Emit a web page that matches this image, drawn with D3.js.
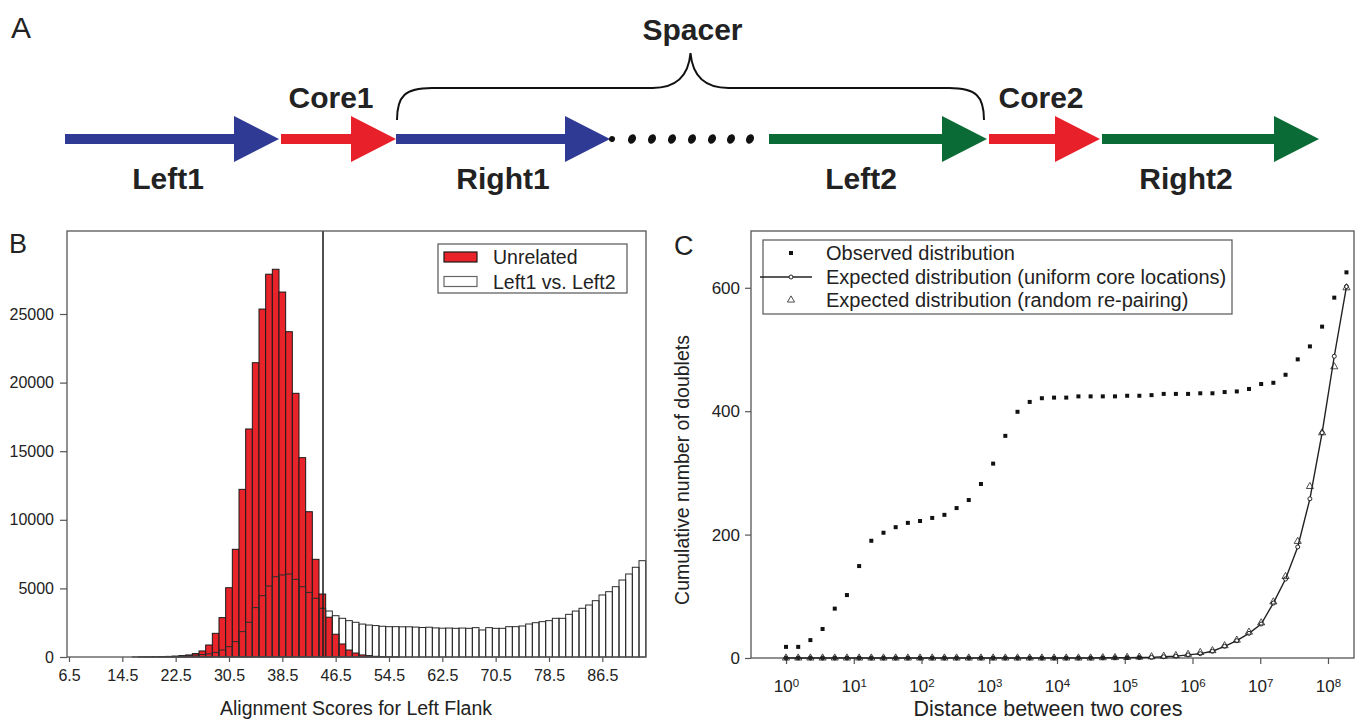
<!DOCTYPE html>
<html>
<head>
<meta charset="utf-8">
<script src="https://cdn.jsdelivr.net/npm/d3@7"></script>
<style>
  body { margin: 0; background: #fff; }
  svg text { font-family: "Liberation Sans", Arial, Helvetica, sans-serif; fill: #222; }
</style>
</head>
<body>
<svg id="fig" width="1361" height="721"></svg>
<script>
'use strict';

// ---------------- data ----------------

// panel A: schematic of a doublet (diagram units along the sequence)
var segNames  = ['Left1', 'Core1', 'Right1', 'Left2', 'Core2', 'Right2'];
var segGroup  = ['flank1', 'core', 'flank1', 'flank2', 'core', 'flank2'];
var segFrom   = [0, 216, 331, 704, 924, 1037];
var segTo     = [214, 331, 545, 922, 1035, 1254];
var segLabelAt = [103, 266, 438, 796, 976, 1121];
var segLabelSide = ['below', 'above', 'below', 'below', 'above', 'below'];
var spacerDots = [547, 567, 587, 607, 627, 647, 666, 685];
var spacerFrom = 331, spacerTo = 918;

// panel B: histogram of alignment scores (bin lower edges, width 1)
var scoreBins = [6, 7, 8, 9, 10, 11, 12, 13, 14, 15, 16, 17, 18, 19, 20, 21, 22, 23, 24, 25, 26, 27, 28, 29,
  30, 31, 32, 33, 34, 35, 36, 37, 38, 39, 40, 41, 42, 43, 44, 45, 46, 47, 48, 49, 50, 51, 52, 53, 54, 55,
  56, 57, 58, 59, 60, 61, 62, 63, 64, 65, 66, 67, 68, 69, 70, 71, 72, 73, 74, 75, 76, 77, 78, 79, 80, 81,
  82, 83, 84, 85, 86, 87, 88, 89, 90, 91, 92];
var unrelatedCounts = [0, 0, 0, 0, 0, 0, 0, 0, 0, 0, 5, 8, 12, 20, 30, 45, 60, 100, 150, 250, 440, 875, 1725, 2870,
  5050, 7850, 12220, 16620, 21450, 25360, 27900, 28260, 26600, 23710, 19220, 14530, 10590, 7120, 4590, 2900, 1660, 950, 510, 290, 150, 100, 50, 25, 12, 6,
  0, 0, 0, 0, 0, 0, 0, 0, 0, 0, 0, 0, 0, 0, 0, 0, 0, 0, 0, 0, 0, 0, 0, 0, 0, 0,
  0, 0, 0, 0, 0, 0, 0, 0, 0, 0, 0];
var flankCounts = [0, 0, 0, 0, 0, 0, 0, 0, 0, 0, 0, 5, 10, 15, 25, 35, 50, 70, 100, 140, 180, 230, 330, 510,
  750, 1120, 1850, 2530, 3600, 4470, 5170, 5850, 5980, 6050, 5660, 5120, 4710, 4280, 3550, 3350, 3010, 2820, 2650, 2530, 2400, 2330, 2290, 2240, 2210, 2210,
  2200, 2200, 2180, 2150, 2170, 2120, 2100, 2110, 2090, 2110, 2090, 2140, 1970, 2140, 2090, 2090, 2210, 2210, 2260, 2405, 2500, 2575, 2650, 2820, 2820, 3110,
  3350, 3550, 3790, 4105, 4520, 4760, 5125, 5610, 6050, 6540, 7020];
var scoreCutoff = 44.6;
var scoreTicks = [6.5, 14.5, 22.5, 30.5, 38.5, 46.5, 54.5, 62.5, 70.5, 78.5, 86.5];
var countTicks = [0, 5000, 10000, 15000, 20000, 25000];
var histSeries = ['Unrelated', 'Left1 vs. Left2'];

// panel C: cumulative number of doublets vs distance between cores
var distances = [1, 1.513, 2.289, 3.464, 5.24, 7.929, 12.0, 18.15, 27.46, 41.55, 62.87, 95.12, 143.9, 217.7,
  329.4, 498.4, 754.1, 1141, 1726, 2612, 3952, 5979, 9047, 13688, 20710, 31334, 47408, 71729, 108526,
  164200, 248435, 375882, 568710, 860458, 1301873, 1969734, 2980208, 4509055, 6822200, 10321990,
  15617170, 23628780, 35750340, 54090260, 81838560, 123821800, 187342300];
var observed = [18, 18, 29, 47, 80, 102, 149, 190, 203, 212, 219, 222, 227, 232, 243, 256, 282, 315, 360, 399,
  415, 421, 422, 422, 424, 424, 424, 424, 425, 425, 426, 428, 428, 428, 429, 429, 431, 432, 436, 444,
  446, 459, 484, 505, 537, 584, 625];
var expectedUniform = [0, 0, 0, 0, 0, 0, 0, 0, 0, 0, 0, 0, 0, 0, 0, 0, 0, 0, 0, 0,
  0, 0, 0, 0, 0, 0, 0.3, 0.4, 0.6, 0.8, 1, 2, 3, 5, 7, 11, 19, 28, 40, 55,
  89, 128, 180, 258, 365, 489, 602];
var expectedRepair = [0, 0, 0, 0, 0, 0, 0, 0, 0, 0, 0, 0, 0, 0, 0, 0, 0, 0, 0, 0,
  0, 0, 0, 0, 0, 0, 0.5, 0.7, 1, 1.5, 2, 3, 4, 6, 9, 12, 20, 29, 42, 57,
  91, 132, 189, 278, 365, 472, 600];
var distTicks = [1, 10, 100, 1000, 10000, 100000, 1000000, 10000000, 100000000];
var doubletTicks = [0, 200, 400, 600];
var seriesC = ['Observed distribution', 'Expected distribution (uniform core locations)',
  'Expected distribution (random re-pairing)'];

// ---------------- drawing ----------------

var svg = d3.select('#fig');
var ink = '#222';
var frameColor = '#555';

function panelLetter(txt, x, y, size) {
  svg.append('text').attr('x', x).attr('y', y).style('font-size', size + 'px').text(txt);
}

// ===== Panel A =====
var colorOf = { flank1: '#2e3a94', core: '#e8202a', flank2: '#0a6b36' };
var xA = d3.scaleLinear().domain([0, 1254]).range([65, 1319]);
var yArrow = 139, shaft = 5, headLen = 45, headHalf = 23;

var gA = svg.append('g');
panelLetter('A', 11, 38, 30);

gA.selectAll('path.arrow')
  .data(segNames)
  .enter()
  .append('path')
  .attr('class', 'arrow')
  .attr('fill', function(d, i) { return colorOf[segGroup[i]]; })
  .attr('d', function(d, i) {
    var x0 = xA(segFrom[i]), x1 = xA(segTo[i]), xb = x1 - headLen;
    return 'M' + x0 + ',' + (yArrow - shaft) + 'L' + xb + ',' + (yArrow - shaft) +
      'L' + xb + ',' + (yArrow - headHalf) + 'L' + x1 + ',' + yArrow +
      'L' + xb + ',' + (yArrow + headHalf) + 'L' + xb + ',' + (yArrow + shaft) +
      'L' + x0 + ',' + (yArrow + shaft) + 'Z';
  });

gA.selectAll('text.seg')
  .data(segNames)
  .enter()
  .append('text')
  .attr('class', 'seg')
  .attr('text-anchor', 'middle')
  .attr('x', function(d, i) { return xA(segLabelAt[i]); })
  .attr('y', function(d, i) { return segLabelSide[i] === 'above' ? 108 : 189; })
  .style('font-size', '30px')
  .style('font-weight', 'bold')
  .text(function(d) { return d; });

gA.selectAll('ellipse.dot')
  .data(spacerDots)
  .enter()
  .append('ellipse')
  .attr('class', 'dot')
  .attr('cx', function(d) { return xA(d); })
  .attr('cy', yArrow)
  .attr('rx', function(d, i) { return i === 0 ? 3 : 3.8; })
  .attr('ry', function(d, i) { return i === 0 ? 3 : 5; })
  .attr('transform', function(d) { return 'rotate(25,' + xA(d) + ',' + yArrow + ')'; })
  .attr('fill', '#111');

// curly brace over the spacer
(function() {
  var x0 = xA(spacerFrom) + 1, x1 = xA(spacerTo) + 1, xm = (x0 + x1) / 2;
  var yEnd = 120, yBar = 88, yPeak = 53;
  var p = 'M' + x0 + ',' + yEnd +
    'C' + x0 + ',' + (yBar + 8) + ' ' + (x0 + 8) + ',' + yBar + ' ' + (x0 + 35) + ',' + yBar +
    'L' + (xm - 38) + ',' + yBar +
    'C' + (xm - 14) + ',' + yBar + ' ' + (xm - 2) + ',' + (yBar - 12) + ' ' + xm + ',' + yPeak +
    'C' + (xm + 2) + ',' + (yBar - 12) + ' ' + (xm + 14) + ',' + yBar + ' ' + (xm + 38) + ',' + yBar +
    'L' + (x1 - 35) + ',' + yBar +
    'C' + (x1 - 8) + ',' + yBar + ' ' + x1 + ',' + (yBar + 8) + ' ' + x1 + ',' + yEnd;
  gA.append('path').attr('d', p).attr('fill', 'none').attr('stroke', '#111').attr('stroke-width', 2);
  gA.append('text').attr('x', xm + 2).attr('y', 40).attr('text-anchor', 'middle')
    .style('font-size', '30px').style('font-weight', 'bold').text('Spacer');
})();

// ===== Panel B =====
var bL = 67, bR = 646, bT = 231, bB = 657;
var xB = d3.scaleLinear().domain([6.2, 93.05]).range([bL, bR]);
var yB = d3.scaleLinear().domain([0, 31050]).range([bB, bT]);
var gB = svg.append('g');
panelLetter('B', 9, 253, 27);

gB.selectAll('rect.unrel')
  .data(scoreBins)
  .enter()
  .append('rect')
  .attr('class', 'unrel')
  .attr('x', function(d) { return xB(d); })
  .attr('width', function(d) { return xB(d + 1) - xB(d); })
  .attr('y', function(d, i) { return yB(unrelatedCounts[i]); })
  .attr('height', function(d, i) { return bB - yB(unrelatedCounts[i]); })
  .attr('fill', '#e8232a')
  .attr('stroke', '#1a1a1a')
  .attr('stroke-width', 1);

gB.selectAll('rect.flank')
  .data(scoreBins)
  .enter()
  .append('rect')
  .attr('class', 'flank')
  .attr('x', function(d) { return xB(d); })
  .attr('width', function(d) { return xB(d + 1) - xB(d); })
  .attr('y', function(d, i) { return yB(flankCounts[i]); })
  .attr('height', function(d, i) { return bB - yB(flankCounts[i]); })
  .attr('fill', 'none')
  .attr('stroke', '#2a2a2a')
  .attr('stroke-width', 1);

gB.append('line')
  .attr('x1', xB(scoreCutoff)).attr('x2', xB(scoreCutoff))
  .attr('y1', bT).attr('y2', bB)
  .attr('stroke', '#222').attr('stroke-width', 1.6);

gB.append('rect')
  .attr('x', bL).attr('y', bT).attr('width', bR - bL).attr('height', bB - bT)
  .attr('fill', 'none').attr('stroke', frameColor).attr('stroke-width', 1.3);

var axBy = gB.append('g').attr('transform', 'translate(' + bL + ',0)')
  .call(d3.axisLeft(yB).tickValues(countTicks).tickSize(7).tickPadding(6).tickFormat(d3.format('d')));
var axBx = gB.append('g').attr('transform', 'translate(0,' + bB + ')')
  .call(d3.axisBottom(xB).tickValues(scoreTicks).tickSize(5).tickPadding(8).tickFormat(d3.format('.1f')));
[axBy, axBx].forEach(function(ax) {
  ax.select('.domain').remove();
  ax.selectAll('.tick line').attr('stroke', frameColor).attr('stroke-width', 1.2);
  ax.selectAll('.tick text').attr('fill', ink).style('font-size', '16px')
    .style('font-family', '"Liberation Sans", Arial, sans-serif');
});

gB.append('text').attr('x', 356).attr('y', 715).attr('text-anchor', 'middle')
  .style('font-size', '19.5px').text('Alignment Scores for Left Flank');

// legend B
var legB = gB.append('g');
legB.append('rect').attr('x', 438).attr('y', 244).attr('width', 189).attr('height', 49)
  .attr('fill', '#fff').attr('stroke', frameColor).attr('stroke-width', 1.2);
legB.selectAll('rect.sw')
  .data(histSeries)
  .enter()
  .append('rect')
  .attr('class', 'sw')
  .attr('x', 444).attr('width', 33)
  .attr('y', function(d, i) { return 252 + i * 24.5; })
  .attr('height', 10)
  .attr('fill', function(d, i) { return i === 0 ? '#e8232a' : '#fff'; })
  .attr('stroke', function(d, i) { return i === 0 ? '#1a1a1a' : '#666'; })
  .attr('stroke-width', 1.2);
legB.selectAll('text.lb')
  .data(histSeries)
  .enter()
  .append('text')
  .attr('class', 'lb')
  .attr('x', 493)
  .attr('y', function(d, i) { return 264 + i * 24.5; })
  .style('font-size', '19.5px')
  .text(function(d) { return d; });

// ===== Panel C =====
var cL = 751, cR = 1354, cT = 231, cB = 658;
var xC = d3.scaleLog().domain([Math.pow(10, -0.517), Math.pow(10, 8.384)]).range([cL, cR]);
var yC = d3.scaleLinear().domain([0, 692]).range([cB, cT]);
var gC = svg.append('g');
panelLetter('C', 674, 255, 27);

gC.append('rect')
  .attr('x', cL).attr('y', cT).attr('width', cR - cL).attr('height', cB - cT)
  .attr('fill', 'none').attr('stroke', frameColor).attr('stroke-width', 1.3);

var axCy = gC.append('g').attr('transform', 'translate(' + cL + ',0)')
  .call(d3.axisLeft(yC).tickValues(doubletTicks).tickSize(6).tickPadding(5));
var axCx = gC.append('g').attr('transform', 'translate(0,' + cB + ')')
  .call(d3.axisBottom(xC).tickValues(distTicks).tickSize(6).tickPadding(16));
[axCy, axCx].forEach(function(ax) {
  ax.select('.domain').remove();
  ax.selectAll('.tick line').attr('stroke', frameColor).attr('stroke-width', 1.2);
  ax.selectAll('.tick text').attr('fill', ink).style('font-size', '17px')
    .style('font-family', '"Liberation Sans", Arial, sans-serif');
});
axCx.selectAll('.tick text').each(function(d) {
  var t = d3.select(this);
  t.text('');
  t.append('tspan').text('10');
  t.append('tspan').attr('dy', '-0.45em').style('font-size', '11.5px').text(Math.round(Math.log10(d)));
});

// expected (uniform) line
gC.append('path')
  .datum(distances)
  .attr('fill', 'none')
  .attr('stroke', '#222')
  .attr('stroke-width', 1.4)
  .attr('d', d3.line()
    .x(function(d) { return xC(d); })
    .y(function(d, i) { return yC(expectedUniform[i]); }));

gC.selectAll('circle.unif')
  .data(distances)
  .enter()
  .append('circle')
  .attr('class', 'unif')
  .attr('cx', function(d) { return xC(d); })
  .attr('cy', function(d, i) { return yC(expectedUniform[i]); })
  .attr('r', 2)
  .attr('fill', function(d, i) { return expectedUniform[i] < 1 ? '#222' : '#fff'; })
  .attr('stroke', '#222')
  .attr('stroke-width', 1);

var tri = d3.symbol().type(d3.symbolTriangle).size(22);
gC.selectAll('path.rep')
  .data(distances)
  .enter()
  .append('path')
  .attr('class', 'rep')
  .attr('d', tri)
  .attr('transform', function(d, i) { return 'translate(' + xC(d) + ',' + yC(expectedRepair[i]) + ')'; })
  .attr('fill', 'none')
  .attr('stroke', '#222')
  .attr('stroke-width', 0.8);

gC.selectAll('rect.obs')
  .data(distances)
  .enter()
  .append('rect')
  .attr('class', 'obs')
  .attr('x', function(d) { return xC(d) - 2; })
  .attr('y', function(d, i) { return yC(observed[i]) - 2; })
  .attr('width', 4).attr('height', 4)
  .attr('fill', '#111');

gC.append('text').attr('x', 1048).attr('y', 716).attr('text-anchor', 'middle')
  .style('font-size', '21.5px').text('Distance between two cores');
gC.append('text').attr('transform', 'translate(689,470) rotate(-90)').attr('text-anchor', 'middle')
  .style('font-size', '19.5px').text('Cumulative number of doublets');

// legend C
var legC = gC.append('g');
legC.append('rect').attr('x', 763).attr('y', 240).attr('width', 469).attr('height', 74)
  .attr('fill', '#fff').attr('stroke', frameColor).attr('stroke-width', 1.2);
var rowY = [253, 277, 300];
legC.append('rect').attr('x', 789).attr('y', rowY[0] - 2).attr('width', 4).attr('height', 4).attr('fill', '#111');
legC.append('line').attr('x1', 760).attr('x2', 812).attr('y1', rowY[1]).attr('y2', rowY[1])
  .attr('stroke', '#222').attr('stroke-width', 1.4);
legC.append('circle').attr('cx', 791).attr('cy', rowY[1]).attr('r', 2)
  .attr('fill', '#fff').attr('stroke', '#222').attr('stroke-width', 1);
legC.append('path').attr('d', tri).attr('transform', 'translate(791,' + rowY[2] + ')')
  .attr('fill', 'none').attr('stroke', '#222').attr('stroke-width', 0.8);
legC.selectAll('text.lc')
  .data(seriesC)
  .enter()
  .append('text')
  .attr('class', 'lc')
  .attr('x', 826)
  .attr('y', function(d, i) { return rowY[i] + 7; })
  .style('font-size', '20px')
  .text(function(d) { return d; });
</script>
</body>
</html>
